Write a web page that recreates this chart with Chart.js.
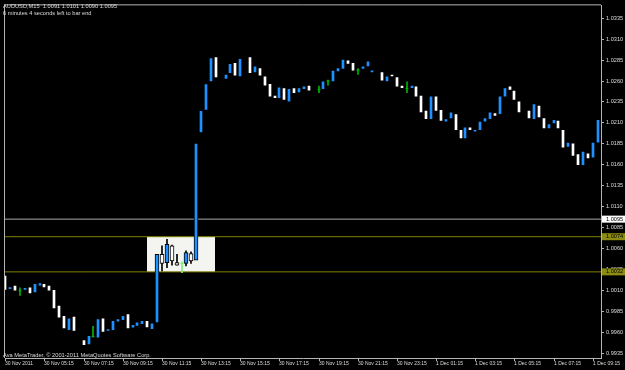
<!DOCTYPE html>
<html lang="en">
<head>
<meta charset="UTF-8"/>
<title>AUDUSD,M15</title>
<script src="https://cdn.jsdelivr.net/npm/chart.js"></script>
<style>
  html, body { margin: 0; padding: 0; background: #000; }
  .chart-box { width: 625px; height: 370px; position: relative; }
</style>
</head>
<body>
<div class="chart-box"><canvas id="candles"></canvas></div>
<script>
const header = "AUDUSD,M15  1.0091 1.0101 1.0090 1.0095";
const countdown = "6 minutes 4 seconds left to bar end";
const copyright = "Ava MetaTrader, \u00a9 2001-2011 MetaQuotes Software Corp.";

// one label every 8 bars (M15 -> 2 hours)
const timeLabels = [
  "30 Nov 2011", "30 Nov 05:15", "30 Nov 07:15", "30 Nov 09:15", "30 Nov 11:15",
  "30 Nov 13:15", "30 Nov 15:15", "30 Nov 17:15", "30 Nov 19:15", "30 Nov 21:15",
  "30 Nov 23:15", "1 Dec 01:15", "1 Dec 03:15", "1 Dec 05:15", "1 Dec 07:15", "1 Dec 09:15"
];
const priceTicks = [
  0.9935, 0.9960, 0.9985, 1.0010, 1.0035, 1.0060, 1.0085, 1.0110, 1.0135,
  1.0160, 1.0185, 1.0210, 1.0235, 1.0260, 1.0285, 1.0310, 1.0335
];

const opens = [
  1.0027, 1.0012, 1.0015, 1.0010, 1.0011, 1.0013, 1.0008, 1.0016, 1.0017, 1.0015,
  1.0010, 0.9991, 0.9979, 0.9963, 0.9978, 0.9956, 0.9950, 0.9946, 0.9955, 0.9954,
  0.9976, 0.9962, 0.9963, 0.9973, 0.9975, 0.9981, 0.9966, 0.9968, 0.9970, 0.9974,
  0.9963, 0.9971, 1.0053, 1.0043, 1.0063, 1.0043, 1.0042, 1.0042, 1.0054, 1.0046,
  1.0198, 1.0225, 1.0259, 1.0288, 1.0268, 1.0263, 1.0270, 1.0281, 1.0266, 1.0286,
  1.0288, 1.0271, 1.0275, 1.0265, 1.0256, 1.0242, 1.0240, 1.0251, 1.0236, 1.0251,
  1.0247, 1.0251, 1.0254, 1.0247, 1.0250, 1.0251, 1.0260, 1.0260, 1.0272, 1.0275,
  1.0284, 1.0281, 1.0273, 1.0275, 1.0278, 1.0271, 1.0270, 1.0270, 1.0260, 1.0267,
  1.0264, 1.0254, 1.0251, 1.0252, 1.0253, 1.0242, 1.0224, 1.0215, 1.0241, 1.0225,
  1.0212, 1.0216, 1.0220, 1.0201, 1.0192, 1.0204, 1.0200, 1.0202, 1.0212, 1.0215,
  1.0221, 1.0221, 1.0242, 1.0253, 1.0248, 1.0235, 1.0223, 1.0224, 1.0215, 1.0230,
  1.0215, 1.0204, 1.0210, 1.0212, 1.0201, 1.0182, 1.0185, 1.0172, 1.0160, 1.0173,
  1.0169, 1.0187
];
const closes = [
  1.0011, 1.0013, 1.0010, 1.0010, 1.0012, 1.0007, 1.0017, 1.0018, 1.0014, 1.0010,
  0.9989, 0.9978, 0.9965, 0.9976, 0.9962, 0.9956, 0.9945, 0.9955, 0.9955, 0.9975,
  0.9961, 0.9963, 0.9973, 0.9975, 0.9979, 0.9965, 0.9968, 0.9971, 0.9973, 0.9965,
  0.9971, 1.0053, 1.0042, 1.0065, 1.0045, 1.0040, 1.0042, 1.0055, 1.0045, 1.0186,
  1.0225, 1.0257, 1.0288, 1.0265, 1.0268, 1.0267, 1.0280, 1.0267, 1.0286, 1.0286,
  1.0270, 1.0277, 1.0267, 1.0255, 1.0242, 1.0240, 1.0252, 1.0238, 1.0250, 1.0246,
  1.0251, 1.0253, 1.0249, 1.0247, 1.0250, 1.0259, 1.0260, 1.0272, 1.0275, 1.0285,
  1.0281, 1.0273, 1.0273, 1.0277, 1.0283, 1.0272, 1.0270, 1.0261, 1.0265, 1.0266,
  1.0254, 1.0252, 1.0251, 1.0254, 1.0242, 1.0223, 1.0215, 1.0241, 1.0225, 1.0213,
  1.0214, 1.0222, 1.0202, 1.0192, 1.0204, 1.0202, 1.0201, 1.0211, 1.0215, 1.0222,
  1.0219, 1.0241, 1.0251, 1.0250, 1.0238, 1.0223, 1.0223, 1.0216, 1.0232, 1.0217,
  1.0204, 1.0208, 1.0213, 1.0204, 1.0181, 1.0186, 1.0171, 1.0160, 1.0175, 1.0168,
  1.0186, 1.0213
];

// dojis (open == close) are drawn as green crosses
const dojiIdx  = [3, 18, 36, 64, 66, 72, 82];
const dojiHigh = [1.0013, 0.9967, 1.0044, 1.0254, 1.0261, 1.0275, 1.0259];
const dojiLow  = [1.0004, 0.9954, 1.0031, 1.0246, 1.0255, 1.0268, 1.0246];

// wicks are black, so only the ones over the white box show up
const wickIdx  = [32, 33, 34, 35, 37, 38];
const wickHigh = [1.0063, 1.0071, 1.0064, 1.0053, 1.0057, 1.0056];
const wickLow  = [1.0033, 1.0037, 1.0040, 1.0040, 1.0039, 1.0042];

const bidPrice = 1.0095;
const levelPrices = [1.0074, 1.0032];
const zoneBars = [28.98, 42.89];

const xMin = -0.061, xMax = 121.69;
const yMin = 0.99291, yMax = 1.03504;

const BULL = '#1e90ff', BEAR = '#ffffff', AXIS = '#b4b4b4', TEXT = '#dcdcdc', OLIVE = '#808000';

const inZone = i => i > zoneBars[0] && i < zoneBars[1];
const bodyIdx = opens.map((o, i) => i).filter(i => opens[i] !== closes[i]);
const bodyPoint = i => ({ x: i, y: [opens[i], closes[i]] });
const bodyColor = c => c.raw.y[1] > c.raw.y[0] ? BULL : BEAR;
const hLine = (price, color) => ({
  type: 'line', order: 5, borderColor: color, borderWidth: 1, pointRadius: 0,
  data: [{ x: xMin, y: price }, { x: xMax, y: price }]
});

const overlay = {
  id: 'overlay',
  beforeDatasetsDraw(chart) {
    const { ctx, scales: { x, y } } = chart;
    const l = x.getPixelForValue(zoneBars[0]), r = x.getPixelForValue(zoneBars[1]);
    const t = y.getPixelForValue(levelPrices[0]), b = y.getPixelForValue(levelPrices[1]);
    ctx.save();
    ctx.fillStyle = '#f4f4f0';
    ctx.fillRect(l, t, r - l, b - t);
    ctx.restore();
  },
  afterDraw(chart) {
    const { ctx, chartArea: a, scales: { y } } = chart;
    ctx.save();
    ctx.strokeStyle = AXIS;
    ctx.lineWidth = 1;
    ctx.beginPath();
    ctx.moveTo(a.left - 0.5, a.bottom);
    ctx.lineTo(a.left - 0.5, a.top - 0.5);
    ctx.lineTo(a.right, a.top - 0.5);
    ctx.stroke();

    ctx.textBaseline = 'middle';
    ctx.font = '5.6px "Liberation Sans"';
    const tags = [[bidPrice, '#ffffff']].concat(levelPrices.map(p => [p, '#8c8c14']));
    tags.forEach(([p, bg]) => {
      const py = y.getPixelForValue(p);
      ctx.fillStyle = bg;
      ctx.fillRect(a.right + 1, py - 3.5, 24, 7);
      ctx.fillStyle = '#000';
      ctx.fillText(p.toFixed(4), a.right + 5, py);
    });

    ctx.fillStyle = TEXT;
    ctx.font = '5.7px "Liberation Sans"';
    ctx.fillText(header, 3, 6);
    ctx.fillText(countdown, 3, 13);
    ctx.fillText(copyright, 3, 355);
    ctx.restore();
  }
};

new Chart(document.getElementById('candles'), {
  type: 'bar',
  data: {
    datasets: [
      {
        label: 'bodies', order: 0, grouped: false,
        data: bodyIdx.filter(i => !inZone(i)).map(bodyPoint),
        backgroundColor: bodyColor, borderWidth: 0,
        barThickness: 2, minBarLength: 1
      },
      {
        label: 'bodies over box', order: 0, grouped: false,
        data: bodyIdx.filter(inZone).map(bodyPoint),
        backgroundColor: bodyColor, borderColor: '#000', borderWidth: 1, borderSkipped: false,
        barThickness: 4, minBarLength: 1
      },
      {
        label: 'wicks', order: 1, grouped: false,
        data: wickIdx.map((i, k) => ({ x: i, y: [wickLow[k], wickHigh[k]] })),
        backgroundColor: '#000', barThickness: 1
      },
      {
        label: 'doji stems', order: 1, grouped: false,
        data: dojiIdx.map((i, k) => ({ x: i, y: [dojiLow[k], dojiHigh[k]] })),
        backgroundColor: c => inZone(c.raw.x) ? '#7ef07e' : '#00b400', barThickness: 1
      },
      {
        type: 'line', label: 'doji ticks', order: 0, showLine: false,
        data: dojiIdx.map(i => ({ x: i, y: opens[i] })),
        pointStyle: 'line', pointRadius: 1.5, pointBorderWidth: 1,
        pointBorderColor: c => inZone(c.raw.x) ? '#7ef07e' : '#00b400'
      },
      hLine(bidPrice, '#a8a8a8'),
      hLine(levelPrices[0], OLIVE),
      hLine(levelPrices[1], OLIVE)
    ]
  },
  options: {
    responsive: true,
    maintainAspectRatio: false,
    animation: false,
    layout: { padding: { left: 2, top: 2, right: 0, bottom: 0 } },
    plugins: { legend: { display: false }, tooltip: { enabled: false } },
    scales: {
      x: {
        type: 'linear', min: xMin, max: xMax, offset: false, alignToPixels: true,
        afterBuildTicks: s => { s.ticks = timeLabels.map((t, k) => ({ value: k * 8 })); },
        afterFit: s => { s.height = 12; },
        grid: { offset: false, drawOnChartArea: false, tickLength: 3, color: AXIS },
        border: { color: AXIS },
        ticks: {
          autoSkip: false, maxRotation: 0, align: 'start', padding: 0, color: TEXT,
          font: { family: 'Liberation Sans', size: 5 },
          callback: (v, i) => timeLabels[i]
        }
      },
      y: {
        position: 'right', min: yMin, max: yMax,
        afterBuildTicks: s => { s.ticks = priceTicks.map(v => ({ value: v })); },
        afterFit: s => { s.width = 24; },
        grid: { drawOnChartArea: false, tickLength: 3, color: AXIS },
        border: { color: AXIS },
        ticks: {
          padding: 2, color: TEXT,
          font: { family: 'Liberation Sans', size: 5.6 },
          callback: v => v.toFixed(4)
        }
      }
    }
  },
  plugins: [overlay]
});
</script>
</body>
</html>
